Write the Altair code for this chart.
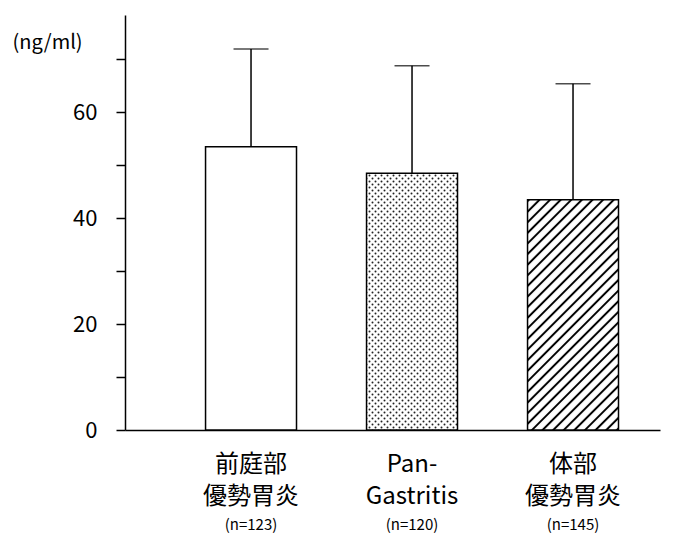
import altair as alt
import pandas as pd

groups = ["前庭部|優勢胃炎", "Pan-|Gastritis", "体部|優勢胃炎"]
n_labels = ["(n=123)", "(n=120)", "(n=145)"]
means = [53.5, 48.5, 43.5]
uppers = [72.0, 68.8, 65.4]
fills = ["white", "url(#dots)", "url(#hatch)"]
y_ticks = [0, 10, 20, 30, 40, 50, 60, 70]

df = pd.DataFrame({"group": groups, "n": n_labels, "mean": means,
                   "upper": uppers, "fill": fills})

W, H = 535, 415
FONT = "Noto Sans CJK JP"

x = alt.X("group:N", sort=groups,
          scale=alt.Scale(paddingInner=0.435, paddingOuter=0.379, align=0.66),
          axis=alt.Axis(title=None, labelExpr="split(datum.label, '|')",
                        labelAngle=0, ticks=False, labelFontSize=24,
                        labelLineHeight=32, labelPadding=22, labelBaseline="top",
                        labelFont=FONT, labelColor="black", domainColor="black",
                        domainWidth=1.5))

y = alt.Y("mean:Q", scale=alt.Scale(domain=[0, 78.4], nice=False),
          axis=alt.Axis(title="(ng/ml)", values=y_ticks,
                        labelExpr="datum.value % 20 == 0 ? datum.label : ''",
                        grid=False, tickSize=9, tickWidth=1.5, tickColor="black",
                        domainColor="black", domainWidth=1.5, labelPadding=19,
                        labelFontSize=22, labelFont=FONT, labelColor="black",
                        titleAngle=0, titleX=-113, titleY=27, titleAlign="left",
                        titleBaseline="middle", titleFont=FONT, titleFontSize=20,
                        titleFontWeight="normal", titleColor="black"))

base = alt.Chart(df)

err = base.mark_rule(strokeWidth=1.5, color="black").encode(
    x=x, y=y, y2="upper:Q")
bars = base.mark_bar(stroke="black", strokeWidth=1.5).encode(
    x=x, y=y, fill=alt.Fill("fill:N", scale=None, legend=None))
caps = base.mark_tick(size=35, thickness=1.5, color="black").encode(
    x=x, y="upper:Q")
ntext = base.mark_text(fontSize=15, baseline="middle", font=FONT, color="black").encode(
    x=x, y=alt.value(H + 95), text="n:N")

chart = alt.layer(err, bars, caps, ntext).properties(
    width=W, height=H,
    autosize=alt.AutoSizeParams(type="none"),
    padding={"left": 117, "top": 7, "right": 5, "bottom": 104},
).configure_view(stroke=None)

chart.save("out.html", embed_options={"renderer": "svg", "actions": False})

defs = """<svg width="0" height="0" style="position:absolute">
<defs>
<pattern id="dots" patternUnits="userSpaceOnUse" width="6" height="6">
<rect width="6" height="6" fill="white"/>
<circle cx="1.5" cy="1.5" r="1.0" fill="#222"/>
<circle cx="4.5" cy="4.5" r="1.0" fill="#222"/>
</pattern>
<pattern id="hatch" patternUnits="userSpaceOnUse" width="7.5" height="7.5" patternTransform="rotate(45)">
<rect width="7.5" height="7.5" fill="white"/>
<line x1="3.75" y1="0" x2="3.75" y2="7.5" stroke="black" stroke-width="2"/>
</pattern>
</defs></svg>"""

with open("out.html", encoding="utf-8") as f:
    html = f.read()
html = html.replace("<body>", "<body>\n" + defs, 1)
with open("out.html", "w", encoding="utf-8") as f:
    f.write(html)
